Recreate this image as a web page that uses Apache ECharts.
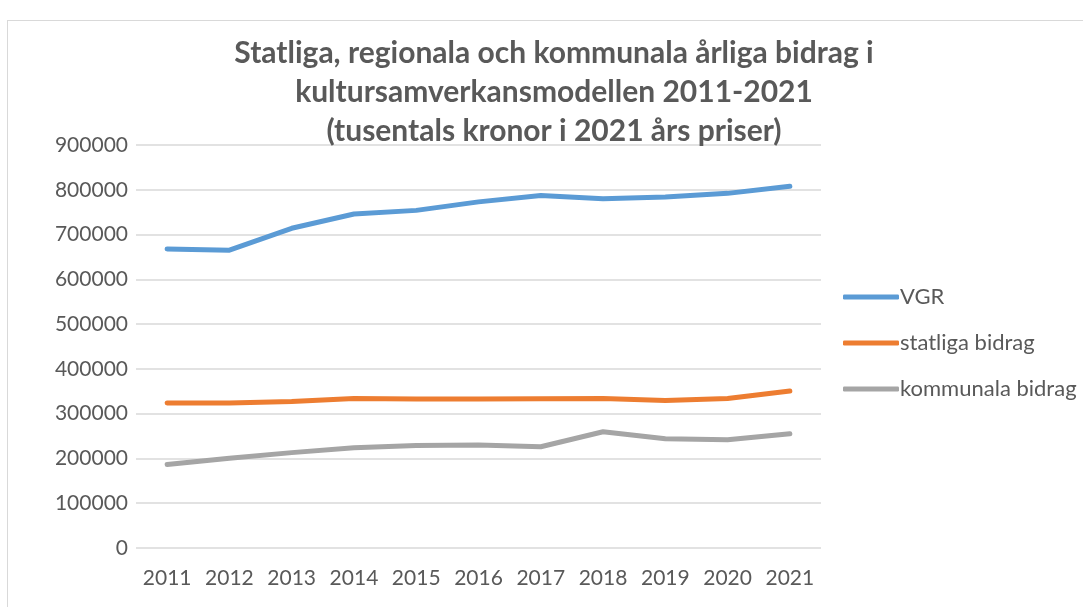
<!DOCTYPE html>
<html>
<head>
<meta charset="utf-8">
<script src="https://cdn.jsdelivr.net/npm/echarts@6/dist/echarts.min.js"></script>
<style>
  html, body { margin: 0; padding: 0; background: #fff; }
  #chart { width: 1083px; height: 607px; }
  .frame { position: absolute; left: 7px; top: 20px; width: 1090px; height: 600px; border: 1px solid #d9d9d9; box-sizing: border-box; pointer-events: none; }
</style>
</head>
<body>
<div class="frame"></div>
<div id="chart"></div>
<script>
const years = ["2011", "2012", "2013", "2014", "2015", "2016", "2017", "2018", "2019", "2020", "2021"];
const vgr = [668000, 665000, 714000, 746000, 754000, 773000, 787000, 780000, 784000, 792000, 808000];
const statliga = [323700, 324000, 327000, 334000, 332500, 333000, 333300, 334000, 329500, 334000, 350500];
const kommunala = [186400, 200600, 213000, 224000, 229000, 230000, 226000, 259500, 244000, 241500, 255000];

const chartInstance = echarts.init(document.getElementById("chart"));
const font = "Lato, 'Open Sans', sans-serif";
const option = {
  animation: false,
  color: ["#5B9BD5", "#ED7D31", "#A5A5A5"],
  title: {
    text: "Statliga, regionala och kommunala årliga bidrag i\nkultursamverkansmodellen 2011-2021\n(tusentals kronor i 2021 års priser)",
    left: 549,
    textAlign: "center",
    top: 29,
    textStyle: { color: "#595959", fontSize: 30, fontWeight: "bold", fontFamily: font, lineHeight: 39 },
  },
  legend: {
    orient: "vertical",
    left: 838,
    top: 281,
    itemWidth: 56,
    itemHeight: 5,
    itemGap: 24,
    icon: "roundRect",
    textStyle: { color: "#595959", fontSize: 22, fontFamily: font, padding: [0, 0, 0, -4] },
    data: ["VGR", "statliga bidrag", "kommunala bidrag"],
  },
  grid: { left: 136, right: 262, top: 145, bottom: 59 },
  xAxis: {
    type: "category",
    data: years,
    boundaryGap: true,
    axisTick: { show: false },
    axisLine: { show: false },
    axisLabel: { color: "#595959", fontSize: 21, fontFamily: font, margin: 20, interval: 0 },
  },
  yAxis: {
    type: "value",
    min: 0,
    max: 900000,
    interval: 100000,
    axisLabel: { color: "#595959", fontSize: 21, fontFamily: font, margin: 8, formatter: (v) => String(v) },
    splitLine: { lineStyle: { color: "#d9d9d9", width: 1.5 } },
  },
  series: [
    { name: "VGR", type: "line", data: vgr, showSymbol: false, lineStyle: { width: 5, cap: "round", join: "round" } },
    { name: "statliga bidrag", type: "line", data: statliga, showSymbol: false, lineStyle: { width: 5, cap: "round", join: "round" } },
    { name: "kommunala bidrag", type: "line", data: kommunala, showSymbol: false, lineStyle: { width: 5, cap: "round", join: "round" } },
  ],
};
chartInstance.setOption(option);
</script>
</body>
</html>
